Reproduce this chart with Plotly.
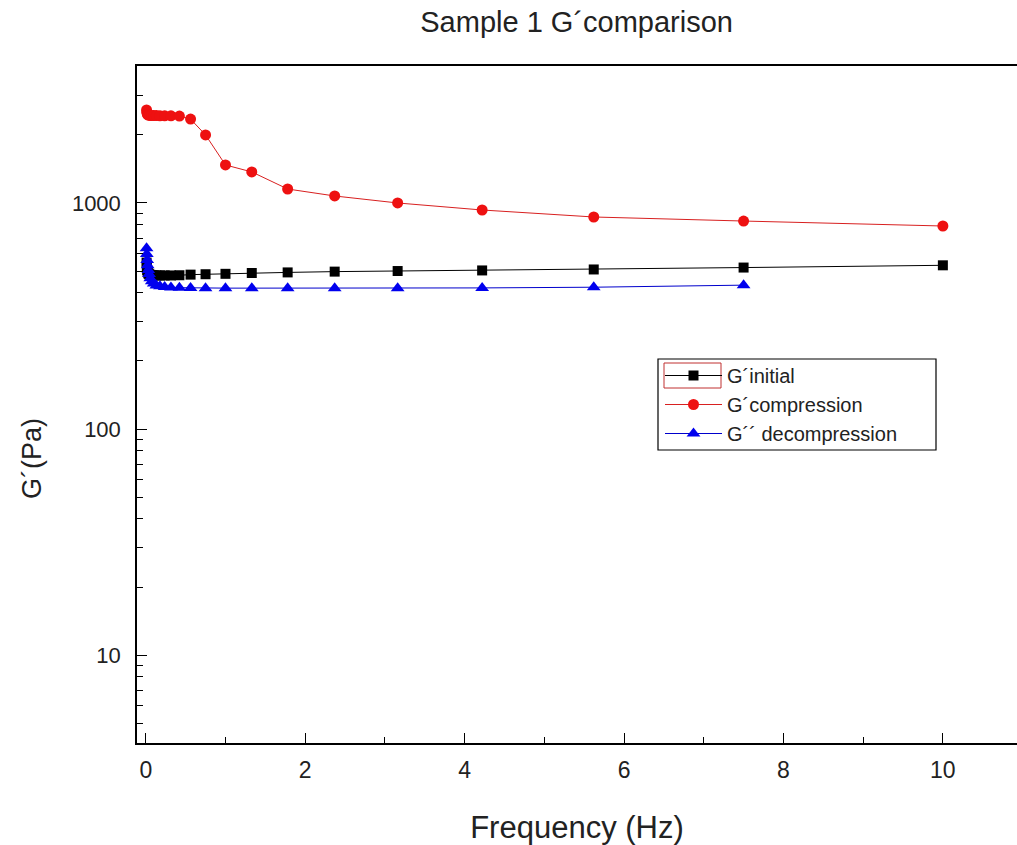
import plotly.graph_objects as go

freq = [0.01, 0.0133, 0.0178, 0.0237, 0.0316, 0.0422, 0.0562, 0.075, 0.1, 0.133,
        0.178, 0.237, 0.316, 0.422, 0.562, 0.75, 1.0, 1.33, 1.78, 2.37, 3.16,
        4.22, 5.62, 7.5, 10.0]

g_initial = [545, 520, 505, 495, 488, 484, 481, 480, 479, 478,
             478, 478, 478, 479, 482, 484, 486, 490, 493, 497, 500,
             503, 508, 518, 530]

g_compression = [2580, 2520, 2480, 2460, 2450, 2445, 2440, 2440, 2435, 2435,
                 2430, 2430, 2430, 2425, 2350, 2000, 1473, 1372, 1153, 1074, 1000,
                 931, 867, 832, 791]

freq_dec = freq[:-1]
g_decompression = [630, 595, 560, 530, 505, 485, 465, 450, 440, 432,
                   428, 425, 423, 422, 421, 420, 420, 420, 420, 420, 420,
                   421, 424, 433]

def px_x(p):
    return (p - 137) / 880

def px_y(p):
    return (743 - p) / 677

fig = go.Figure()
fig.add_trace(go.Scatter(x=freq, y=g_initial, mode="lines+markers", name="G´initial",
                         line=dict(color="black", width=1),
                         marker=dict(symbol="square", size=10, color="black")))
fig.add_trace(go.Scatter(x=freq, y=g_compression, mode="lines+markers", name="G´compression",
                         line=dict(color="#d82020", width=1),
                         marker=dict(symbol="circle", size=11, color="#ee1111")))
fig.add_trace(go.Scatter(x=freq_dec, y=g_decompression, mode="lines+markers", name="G´´ decompression",
                         line=dict(color="#0000cc", width=1),
                         marker=dict(symbol="triangle-up", size=12, color="#0000ee")))

fig.update_layout(
    width=1017, height=845,
    margin=dict(l=137, r=0, t=66, b=102),
    paper_bgcolor="white", plot_bgcolor="white",
    font=dict(family="Liberation Sans, Arial, sans-serif", color="#222"),
    title=dict(text="Sample 1 G´comparison", x=0.567, xanchor="center", y=0.974, yanchor="middle",
               font=dict(size=29, color="#222")),
    showlegend=True,
    legend=dict(x=px_x(660), y=px_y(356), xanchor="left", yanchor="top",
                borderwidth=0, bgcolor="rgba(255,255,255,0)",
                font=dict(size=20, color="#222"), tracegroupgap=0, itemwidth=57),
    xaxis=dict(range=[-0.11, 10.93], showgrid=False, zeroline=False,
               showline=True, linecolor="black", linewidth=1.5, mirror=True,
               ticks="inside", ticklen=10, tickwidth=1, tickcolor="black",
               tickmode="array", tickvals=[0, 2, 4, 6, 8, 10],
               ticklabelstandoff=6,
               tickfont=dict(size=23, family="Liberation Sans Narrow, Liberation Sans, Arial"),
               minor=dict(tickvals=[1, 3, 5, 7, 9], ticks="inside", ticklen=6, tickcolor="black"),
               title=dict(text="Frequency (Hz)", font=dict(size=31), standoff=34)),
    yaxis=dict(type="log", range=[0.611, 3.606], showgrid=False, zeroline=False,
               showline=True, linecolor="black", linewidth=1.5, mirror=False,
               ticks="inside", ticklen=10, tickwidth=1, tickcolor="black",
               tickmode="array", tickvals=[10, 100, 1000], ticktext=["10", "100", "1000"],
               ticklabelstandoff=10,
               tickfont=dict(size=22),
               minor=dict(tickvals=[5, 6, 7, 8, 9, 20, 30, 40, 50, 60, 70, 80, 90,
                                    200, 300, 400, 500, 600, 700, 800, 900, 2000, 3000, 4000],
                          ticks="inside", ticklen=6, tickcolor="black"),
               title=dict(text="")),
    annotations=[dict(text="G´(Pa)", xref="paper", yref="paper", x=-0.12, y=0.42,
                      showarrow=False, textangle=-90, font=dict(size=27, color="#222"),
                      xanchor="center", yanchor="middle")],
    shapes=[
        dict(type="rect", xref="paper", yref="paper", layer="above",
             x0=px_x(658), x1=px_x(936), y0=px_y(450), y1=px_y(359),
             line=dict(color="black", width=1.2)),
        dict(type="rect", xref="paper", yref="paper", layer="above",
             x0=px_x(664), x1=px_x(721), y0=px_y(388), y1=px_y(363),
             line=dict(color="#c03030", width=1)),
    ],
)

fig.write_html("out.html")
